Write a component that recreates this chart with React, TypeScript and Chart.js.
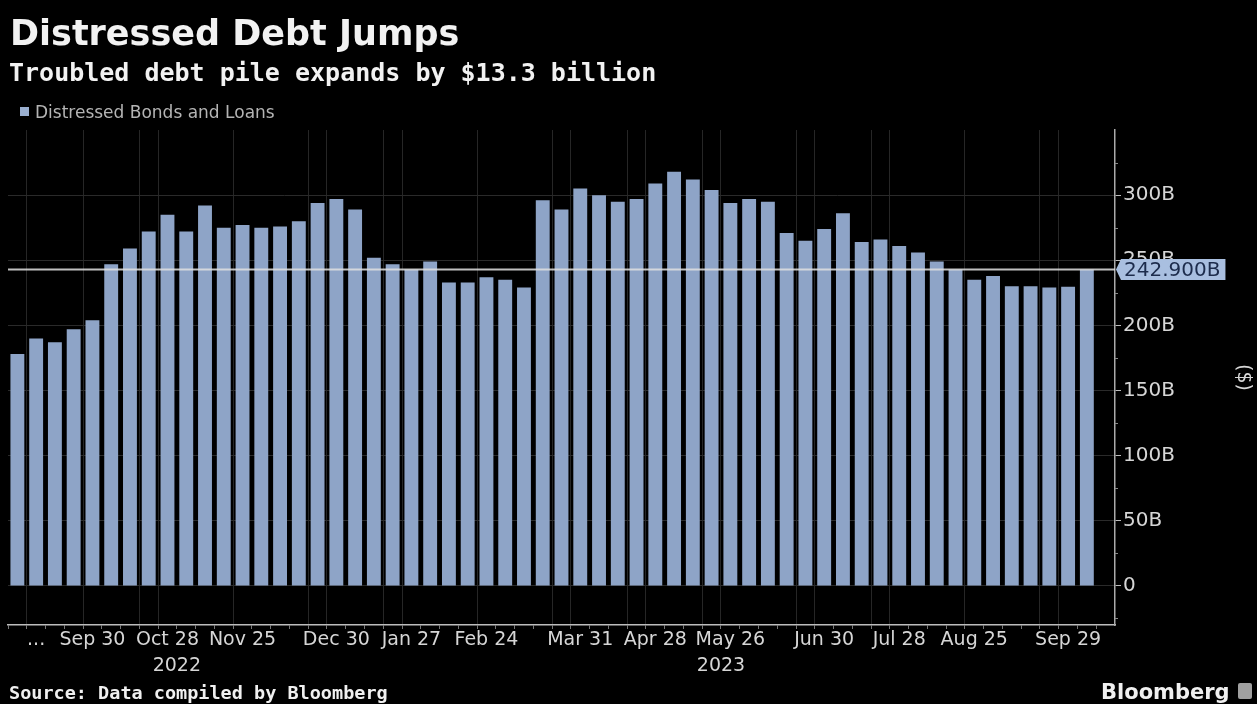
import React, { useEffect, useRef } from 'react';
import { Chart, registerables } from 'chart.js';

Chart.register(...registerables);

// Weekly observations (Fridays), Sep 2 2022 .. Oct 6 2023
const weeks: string[] = [
  '2022-09-02', '2022-09-09', '2022-09-16', '2022-09-23', '2022-09-30',
  '2022-10-07', '2022-10-14', '2022-10-21', '2022-10-28',
  '2022-11-04', '2022-11-11', '2022-11-18', '2022-11-25',
  '2022-12-02', '2022-12-09', '2022-12-16', '2022-12-23', '2022-12-30',
  '2023-01-06', '2023-01-13', '2023-01-20', '2023-01-27',
  '2023-02-03', '2023-02-10', '2023-02-17', '2023-02-24',
  '2023-03-03', '2023-03-10', '2023-03-17', '2023-03-24', '2023-03-31',
  '2023-04-07', '2023-04-14', '2023-04-21', '2023-04-28',
  '2023-05-05', '2023-05-12', '2023-05-19', '2023-05-26',
  '2023-06-02', '2023-06-09', '2023-06-16', '2023-06-23', '2023-06-30',
  '2023-07-07', '2023-07-14', '2023-07-21', '2023-07-28',
  '2023-08-04', '2023-08-11', '2023-08-18', '2023-08-25',
  '2023-09-01', '2023-09-08', '2023-09-15', '2023-09-22', '2023-09-29',
  '2023-10-06',
];

// Distressed Bonds and Loans, billions of $
const distressed: number[] = [
  178, 190, 187, 197, 204,
  247, 259, 272, 285,
  272, 292, 275, 277,
  275, 276, 280, 294, 297,
  289, 252, 247, 243,
  249, 233, 233, 237,
  235, 229, 296, 289, 305,
  300, 295, 297, 309,
  318, 312, 304, 294,
  297, 295, 271, 265, 274,
  286, 264, 266, 261,
  256, 249, 243, 235,
  238, 230, 230, 229, 229.6,
  242.9,
];

const tickIndex: number[] = [1, 4, 8, 12, 17, 21, 25, 30, 34, 38, 43, 47, 51, 56];
const tickText: string[] = ['...', 'Sep 30', 'Oct 28', 'Nov 25', 'Dec 30', 'Jan 27', 'Feb 24', 'Mar 31', 'Apr 28', 'May 26', 'Jun 30', 'Jul 28', 'Aug 25', 'Sep 29'];
const yearText: string[] = ['2022', '2023'];
const yearPos: number[] = [8.5, 37.5];
const gridIdx: number[] = [1, 4, 7, 8, 12, 16, 17, 20, 21, 25, 29, 30, 33, 34, 37, 38, 42, 43, 46, 47, 51, 55, 56];
const yTicks: number[] = [0, 50, 100, 150, 200, 250, 300];
const yMinor: number[] = [-25, 25, 75, 125, 175, 225, 275, 325];

const BAR = '#8ea4c7';
const TXT = '#d6d6d6';
const FONT = 'DejaVu Sans';
const MONO = 'DejaVu Sans Mono';

export default function App() {
  const ref = useRef<HTMLCanvasElement | null>(null);

  useEffect(() => {
    if (!ref.current) return;
    const latest = distressed[distressed.length - 1];

    const overlay = {
      id: 'overlay',
      afterDatasetsDraw(chart: any) {
        const { ctx, chartArea, scales } = chart;
        const y = scales.y.getPixelForValue(latest);
        ctx.save();
        ctx.strokeStyle = 'rgba(225,225,225,0.85)';
        ctx.lineWidth = 2;
        ctx.beginPath();
        ctx.moveTo(chartArea.left, y);
        ctx.lineTo(chartArea.right, y);
        ctx.stroke();
        ctx.restore();
      },
      afterDraw(chart: any) {
        const { ctx, chartArea, scales } = chart;
        ctx.save();
        // minor y ticks
        ctx.strokeStyle = '#888';
        ctx.lineWidth = 1;
        yMinor.forEach((v) => {
          const py = Math.round(scales.y.getPixelForValue(v)) + 0.5;
          ctx.beginPath();
          ctx.moveTo(chartArea.right, py);
          ctx.lineTo(chartArea.right + 3, py);
          ctx.stroke();
        });
        // year labels
        ctx.fillStyle = TXT;
        ctx.font = `19px "${FONT}"`;
        ctx.textAlign = 'center';
        ctx.textBaseline = 'middle';
        yearText.forEach((t, i) => {
          ctx.fillText(t, scales.x.getPixelForValue(yearPos[i]), 666);
        });
        // latest value box
        const y = scales.y.getPixelForValue(latest);
        const x0 = chartArea.right + 6;
        const label = latest.toFixed(3) + 'B';
        ctx.font = `20px "${FONT}"`;
        const w = ctx.measureText(label).width + 8;
        ctx.fillStyle = '#a9bfe0';
        ctx.beginPath();
        ctx.moveTo(chartArea.right + 1, y);
        ctx.lineTo(x0, y - 10.5);
        ctx.lineTo(x0 + w, y - 10.5);
        ctx.lineTo(x0 + w, y + 10.5);
        ctx.lineTo(x0, y + 10.5);
        ctx.closePath();
        ctx.fill();
        ctx.fillStyle = '#1d2c4c';
        ctx.textAlign = 'left';
        ctx.textBaseline = 'middle';
        ctx.fillText(label, x0 + 3, y + 1);
        ctx.restore();
      },
    };

    const chart = new Chart(ref.current, {
      type: 'bar',
      data: {
        datasets: [
          {
            label: 'Distressed Bonds and Loans',
            data: distressed.map((v, i) => ({ x: i, y: v })),
            backgroundColor: BAR,
            borderWidth: 0,
            barPercentage: 0.74,
            categoryPercentage: 1,
          },
        ],
      },
      options: {
        animation: false,
        responsive: false,
        maintainAspectRatio: false,
        layout: { padding: { left: 8, top: 130, right: 0, bottom: 0 } },
        plugins: { legend: { display: false }, tooltip: { enabled: false } },
        scales: {
          x: {
            type: 'linear',
            min: -0.5,
            max: weeks.length + 0.5,
            offset: false,
            afterBuildTicks: (s: any) => {
              s.ticks = weeks.map((_, i) => ({ value: i }));
            },
            afterFit: (s: any) => {
              s.height = 79;
            },
            ticks: {
              autoSkip: false,
              maxRotation: 0,
              minRotation: 0,
              color: TXT,
              font: { family: FONT, size: 19 },
              padding: 0,
              callback: (v: any) => {
                const k = tickIndex.indexOf(Number(v));
                return k >= 0 ? tickText[k] : '';
              },
            },
            grid: {
              color: (c: any) => (c.tick && gridIdx.includes(c.tick.value) ? '#262626' : 'rgba(0,0,0,0)'),
              tickColor: '#777',
              tickLength: 4,
              lineWidth: 1,
            },
            border: { color: '#bdbdbd', width: 1.5 },
          },
          y: {
            position: 'right',
            min: -30,
            max: 350,
            afterBuildTicks: (s: any) => {
              s.ticks = yTicks.map((v) => ({ value: v }));
            },
            afterFit: (s: any) => {
              s.width = 142;
            },
            ticks: {
              color: TXT,
              font: { family: FONT, size: 20 },
              padding: 2,
              callback: (v: any) => (Number(v) === 0 ? '0' : v + 'B'),
            },
            grid: { color: '#2a2a2a', tickColor: '#bdbdbd', tickLength: 6, lineWidth: 1 },
            border: { color: '#aaaaaa', width: 1.5 },
            title: {
              display: true,
              text: '($)',
              color: TXT,
              font: { family: FONT, size: 19 },
              padding: { top: 3, bottom: 0 },
            },
          },
        },
      },
      plugins: [overlay],
    });
    return () => chart.destroy();
  }, []);

  const abs = (o: React.CSSProperties): React.CSSProperties => ({ position: 'absolute', whiteSpace: 'nowrap', ...o });

  return (
    <div style={{ position: 'fixed', left: 0, top: 0, width: 1257, height: 704, background: '#000', overflow: 'hidden' }}>
      <canvas ref={ref} width={1257} height={704} style={{ position: 'absolute', left: 0, top: 0, width: 1257, height: 704 }} />
      <div style={abs({ left: 10, top: 16, font: `bold 35px/35px "${FONT}"`, color: '#f2f2f2' })}>Distressed Debt Jumps</div>
      <div style={abs({ left: 9, top: 60, font: `bold 25px/25px "${MONO}"`, color: '#f2f2f2' })}>Troubled debt pile expands by $13.3 billion</div>
      <div style={abs({ left: 20, top: 107, width: 9, height: 9, background: '#9aafcf' })} />
      <div style={abs({ left: 35, top: 104, font: `17px/17px "${FONT}"`, color: '#b4b4b4' })}>Distressed Bonds and Loans</div>
      <div style={abs({ left: 9, top: 684, font: `bold 18.5px/18.5px "${MONO}"`, color: '#f0f0f0' })}>Source: Data compiled by Bloomberg</div>
      <div style={abs({ left: 1101, top: 682, font: `bold 21px/21px "${FONT}"`, color: '#f0f0f0' })}>Bloomberg</div>
      <div style={abs({ left: 1238, top: 683, width: 14, height: 16, background: '#a0a0a0', borderRadius: 2 })} />
    </div>
  );
}
